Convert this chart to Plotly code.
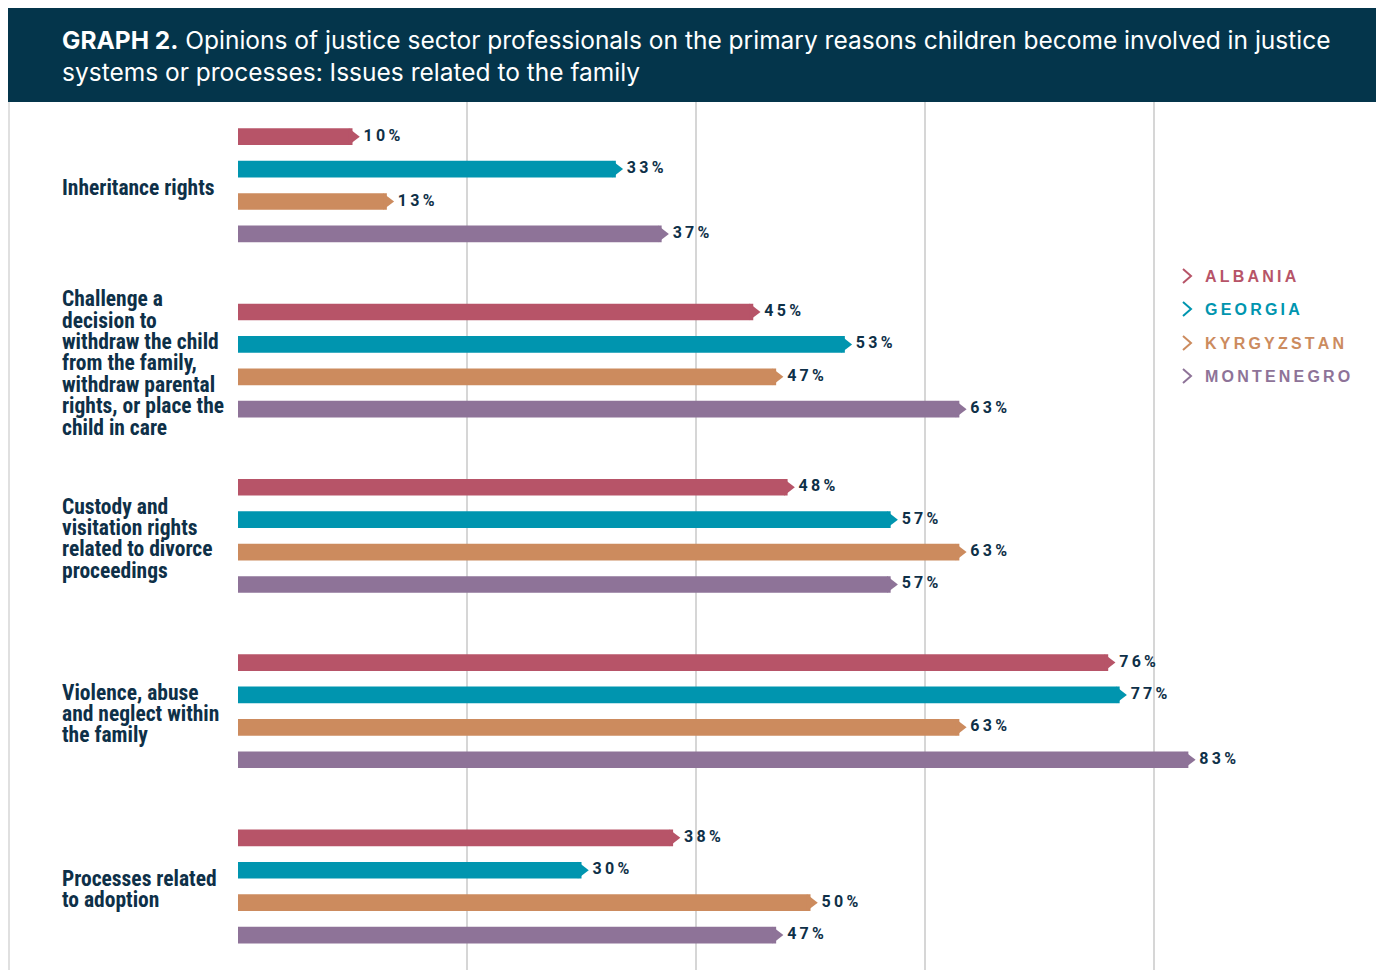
import plotly.graph_objects as go

# ---------------- data ----------------
categories = [
    ["Inheritance rights"],
    ["Challenge a", "decision to", "withdraw the child", "from the family,",
     "withdraw parental", "rights, or place the", "child in care"],
    ["Custody and", "visitation rights", "related to divorce", "proceedings"],
    ["Violence, abuse", "and neglect within", "the family"],
    ["Processes related", "to adoption"],
]
countries = ["ALBANIA", "GEORGIA", "KYRGYZSTAN", "MONTENEGRO"]
albania = [10, 45, 48, 76, 38]
georgia = [33, 53, 57, 77, 30]
kyrgyzstan = [13, 47, 63, 63, 50]
montenegro = [37, 63, 57, 83, 47]
series = [albania, georgia, kyrgyzstan, montenegro]
colors = ["#b75468", "#0095af", "#cc8b5e", "#8e7398"]
grid_ticks = [0, 20, 40, 60, 80, 100]
title_bold = "GRAPH 2."
title_rest = ("Opinions of justice sector professionals on the primary reasons children become involved in justice"
              "<br>systems or processes: Issues related to the family")

# ---------------- layout constants ----------------
W, H = 1376, 962
TOP = 94            # bottom of title band (px)
X0, X1 = 230, 1375  # plot area horizontal extent (px)
SLOT = 32.4         # px per bar slot
GROUP_STEP = 5.41   # slots per category group
FIRST_CENTER = 83.3 # px from plot top to first group centre
BAR_W = 0.515
LINE_STEP = 0.66    # label line spacing in slot units
LABEL_SHIFT = 0.07
NAVY = "#0e3048"
THIN = "\u2009"


def spaced(s):
    return THIN.join(list(s))


def px(x, y):
    return x / W, 1 - y / H


fig = go.Figure()

for i, (name, vals, col) in enumerate(zip(countries, series, colors)):
    ys = [g * GROUP_STEP + (i - 1.5) for g in range(len(vals))]
    fig.add_trace(go.Bar(
        x=vals, y=ys, orientation="h", width=BAR_W,
        marker=dict(color=col, line=dict(width=0)),
        name=name, showlegend=False, hoverinfo="skip"))
    fig.add_trace(go.Scatter(
        x=vals, y=ys, mode="markers",
        marker=dict(symbol="triangle-right", size=14.5, color=col, line=dict(width=0)),
        showlegend=False, hoverinfo="skip", cliponaxis=False))
    fig.add_trace(go.Scatter(
        x=vals, y=ys, mode="markers+text",
        marker=dict(size=16, color="rgba(0,0,0,0)"),
        text=[spaced(f"{v}%") for v in vals], textposition="middle right",
        textfont=dict(family="Roboto, Liberation Sans, sans-serif", size=16, color=NAVY, weight="bold"),
        showlegend=False, hoverinfo="skip", cliponaxis=False))

annotations = []
# category labels
for g, lines in enumerate(categories):
    n = len(lines)
    for k, line in enumerate(lines):
        annotations.append(dict(
            x=52 / W, xref="paper", xanchor="left",
            y=g * GROUP_STEP + (k - (n - 1) / 2) * LINE_STEP + LABEL_SHIFT, yref="y", yanchor="middle",
            text=line, showarrow=False, align="left",
            font=dict(family="Roboto Condensed, Roboto, sans-serif",
                      size=21.5, color=NAVY, weight="bold")))

# title
tx, ty = px(52, 48)
annotations.append(dict(
    x=tx, y=ty, xref="paper", yref="paper", xanchor="left", yanchor="middle",
    text=f"<b>{title_bold}</b> {title_rest}", showarrow=False, align="left",
    font=dict(family="Inter, Liberation Sans, sans-serif", size=24.5, color="white")))

shapes = []
# title band
shapes.append(dict(type="rect", xref="paper", yref="paper", x0=0, x1=1, y0=1 - TOP / H, y1=1,
                   fillcolor="#04354b", line=dict(width=0), layer="below"))
# left frame line
shapes.append(dict(type="line", xref="paper", yref="paper", x0=1 / W, x1=1 / W, y0=0, y1=1 - TOP / H,
                   line=dict(color="#d6d6d6", width=1.5)))

# legend
legend_rows = [268, 301, 335, 368]
for name, col, ry in zip(countries, colors, legend_rows):
    a = px(1175, ry - 7)
    b = px(1183, ry)
    c = px(1175, ry + 7)
    shapes.append(dict(type="path", xref="paper", yref="paper",
                       path=f"M{a[0]},{a[1]} L{b[0]},{b[1]} L{c[0]},{c[1]}",
                       line=dict(color=col, width=2)))
    lx, ly = px(1195, ry)
    annotations.append(dict(
        x=lx, y=ly, xref="paper", yref="paper", xanchor="left", yanchor="middle",
        text=spaced(name), showarrow=False,
        font=dict(family="Liberation Sans, Arial, sans-serif", size=16, color=col, weight="bold")))

n_slots = (H - TOP) / SLOT
top_val = -(FIRST_CENTER / SLOT)
fig.update_layout(
    width=W, height=H,
    margin=dict(l=0, r=0, t=0, b=0, autoexpand=False),
    paper_bgcolor="white", plot_bgcolor="white",
    barmode="overlay",
    xaxis=dict(domain=[X0 / W, X1 / W], range=[0, 100], tickvals=grid_ticks,
               showticklabels=False, showgrid=True, gridcolor="#d6d6d6", gridwidth=1.5,
               zeroline=False, showline=False, fixedrange=True),
    yaxis=dict(domain=[0, 1 - TOP / H], range=[top_val + n_slots, top_val],
               showticklabels=False, showgrid=False, zeroline=False, showline=False, fixedrange=True),
    annotations=annotations, shapes=shapes,
)

fig.write_html("out.html")
